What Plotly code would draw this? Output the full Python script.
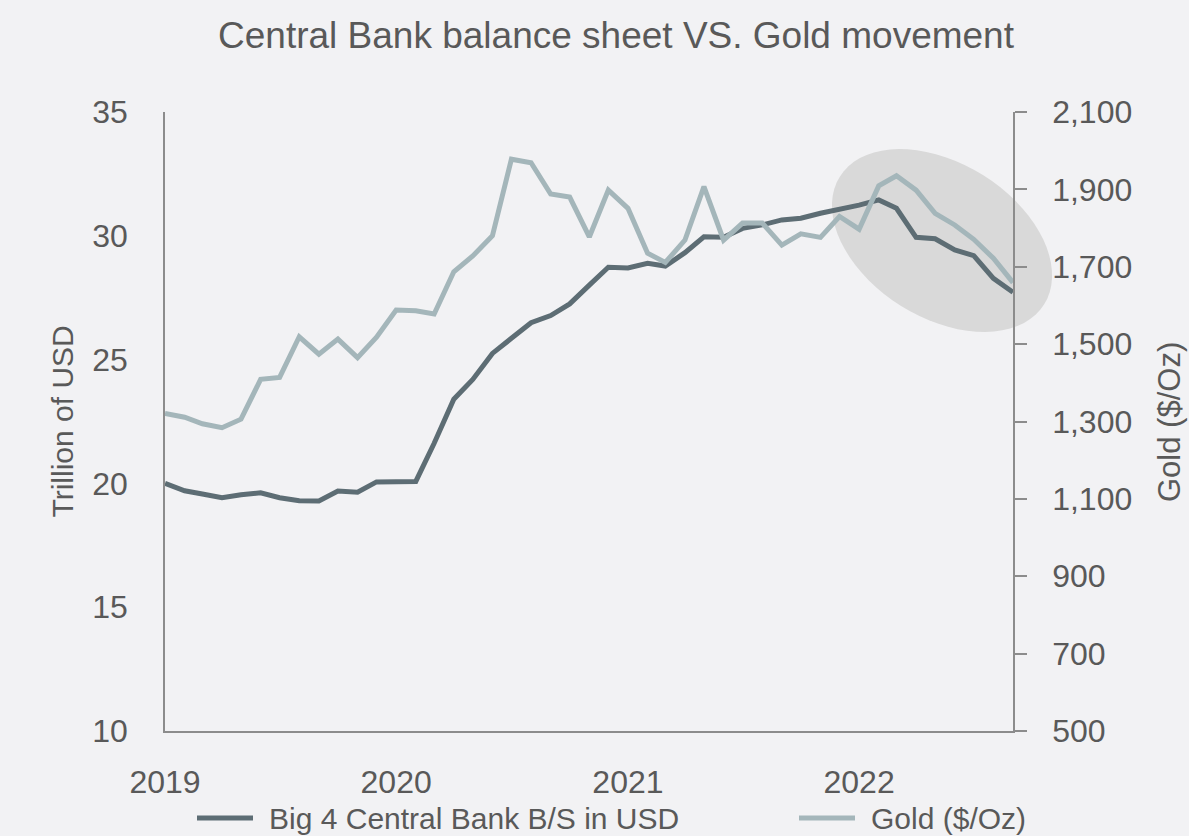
import math
import pandas as pd
import plotly.graph_objects as go

# Monthly observations, Jan 2019 - Sep 2022
months = pd.date_range("2019-01-01", "2022-09-01", freq="MS")

# Big 4 central bank balance sheets, trillion USD
balance_sheet = [
    20.00, 19.70, 19.57, 19.42, 19.54, 19.62, 19.42, 19.30, 19.29, 19.69, 19.64, 20.06,
    20.07, 20.08, 21.62, 23.40, 24.20, 25.25, 25.86, 26.49, 26.78, 27.25, 28.01, 28.73,
    28.70, 28.89, 28.78, 29.32, 29.96, 29.94, 30.30, 30.44, 30.64, 30.71, 30.91, 31.06,
    31.24, 31.45, 31.11, 29.94, 29.88, 29.43, 29.20, 28.28, 27.72,
]

# Gold price, $/oz
gold = [
    1321, 1311, 1294, 1284, 1306, 1409, 1414, 1519, 1474, 1513, 1465, 1518,
    1588, 1586, 1578, 1687, 1728, 1780, 1978, 1969, 1888, 1880, 1777, 1898,
    1851, 1735, 1711, 1769, 1907, 1769, 1813, 1813, 1756, 1785, 1776, 1830,
    1797, 1909, 1935, 1898, 1838, 1808, 1771, 1722, 1659,
]

series_names = ["Big 4 Central Bank B/S in USD", "Gold ($/Oz)"]
left_ticks = [10, 15, 20, 25, 30, 35]
right_ticks = [500, 700, 900, 1100, 1300, 1500, 1700, 1900, 2100]
year_ticks = ["2019-01-01", "2020-01-01", "2021-01-01", "2022-01-01"]
year_labels = ["2019", "2020", "2021", "2022"]

BG = "#f2f2f4"
TEXT = "#595959"
AXIS = "#8c8c8c"
DARK = "#5d6d74"
LIGHT = "#a4b6ba"
FONT = "Liberation Sans, Arial, sans-serif"

W, H = 1189, 836
L, R, T, B = 165, 176, 112, 105
PW, PH = W - L - R, H - T - B


def px_x(px):
    """Horizontal pixel position -> paper fraction."""
    return (px - L) / PW


def px_y(py):
    """Vertical pixel position (from top) -> paper fraction."""
    return (H - B - py) / PH


fig = go.Figure()
fig.add_trace(go.Scatter(
    x=months, y=balance_sheet, name=series_names[0],
    mode="lines", line=dict(color=DARK, width=5), yaxis="y",
))
fig.add_trace(go.Scatter(
    x=months, y=gold, name=series_names[1],
    mode="lines", line=dict(color=LIGHT, width=5), yaxis="y2",
))

# Highlight ellipse around the 2022 turn (tilted), built in paper coordinates
cx, cy, a, b, th = 942, 240.5, 120.5, 77.2, math.radians(32)
pts = []
for i in range(73):
    t = 2 * math.pi * i / 72
    ex = cx + a * math.cos(t) * math.cos(th) - b * math.sin(t) * math.sin(th)
    ey = cy + a * math.cos(t) * math.sin(th) + b * math.sin(t) * math.cos(th)
    pts.append((px_x(ex), px_y(ey)))
path = "M" + " L".join(f"{x:.5f},{y:.5f}" for x, y in pts) + " Z"
fig.add_shape(type="path", path=path, xref="paper", yref="paper",
              fillcolor="#d9d9d9", line=dict(width=0), layer="below")

# Legend row below the x axis: swatch line + label for each series
legend_y = 818
annotations = []
for name, color, x0 in zip(series_names, [DARK, LIGHT], [197, 799]):
    fig.add_shape(type="line", xref="paper", yref="paper",
                  x0=px_x(x0), x1=px_x(x0 + 56), y0=px_y(legend_y), y1=px_y(legend_y),
                  line=dict(color=color, width=5))
    annotations.append(dict(
        text=name, xref="paper", yref="paper", x=px_x(x0 + 70), y=px_y(legend_y),
        xanchor="left", yanchor="middle", showarrow=False,
        font=dict(size=30, color=TEXT),
    ))

annotations += [
    dict(text="Trillion of USD", xref="paper", yref="paper",
         x=px_x(62), y=0.5, xanchor="center", yanchor="middle",
         textangle=-90, showarrow=False, font=dict(size=30, color=TEXT)),
    dict(text="Gold ($/Oz)", xref="paper", yref="paper",
         x=px_x(1169), y=px_y(422), xanchor="center", yanchor="middle",
         textangle=-90, showarrow=False, font=dict(size=31, color=TEXT)),
]

fig.update_layout(
    width=W, height=H,
    margin=dict(l=L, r=R, t=T, b=B),
    paper_bgcolor=BG, plot_bgcolor="rgba(0,0,0,0)",
    font=dict(family=FONT, color=TEXT),
    title=dict(text="Central Bank balance sheet VS. Gold movement",
               x=616 / W, xanchor="center", y=1 - 35 / H, yanchor="middle",
               xref="container", yref="container",
               font=dict(size=37, color=TEXT)),
    xaxis=dict(
        type="date", range=["2019-01-01", "2022-09-01"],
        tickvals=year_ticks, ticktext=year_labels,
        showgrid=False, zeroline=False, showline=True, linecolor=AXIS, linewidth=1.5,
        ticks="", tickfont=dict(size=32, color=TEXT), ticklabelstandoff=22,
    ),
    yaxis=dict(
        range=[10, 35], tickvals=left_ticks,
        showgrid=False, zeroline=False, showline=True, linecolor=AXIS, linewidth=1.5,
        ticks="", tickfont=dict(size=32, color=TEXT), ticklabelstandoff=29,
    ),
    yaxis2=dict(
        range=[500, 2100], tickvals=right_ticks, tickformat=",",
        overlaying="y", side="right",
        showgrid=False, zeroline=False, showline=True, linecolor=AXIS, linewidth=1.5,
        ticks="outside", ticklen=12, tickwidth=1.5, tickcolor=AXIS,
        tickfont=dict(size=32, color=TEXT), ticklabelstandoff=19,
    ),
    showlegend=False,
    annotations=annotations,
)

fig.write_html("out.html")
